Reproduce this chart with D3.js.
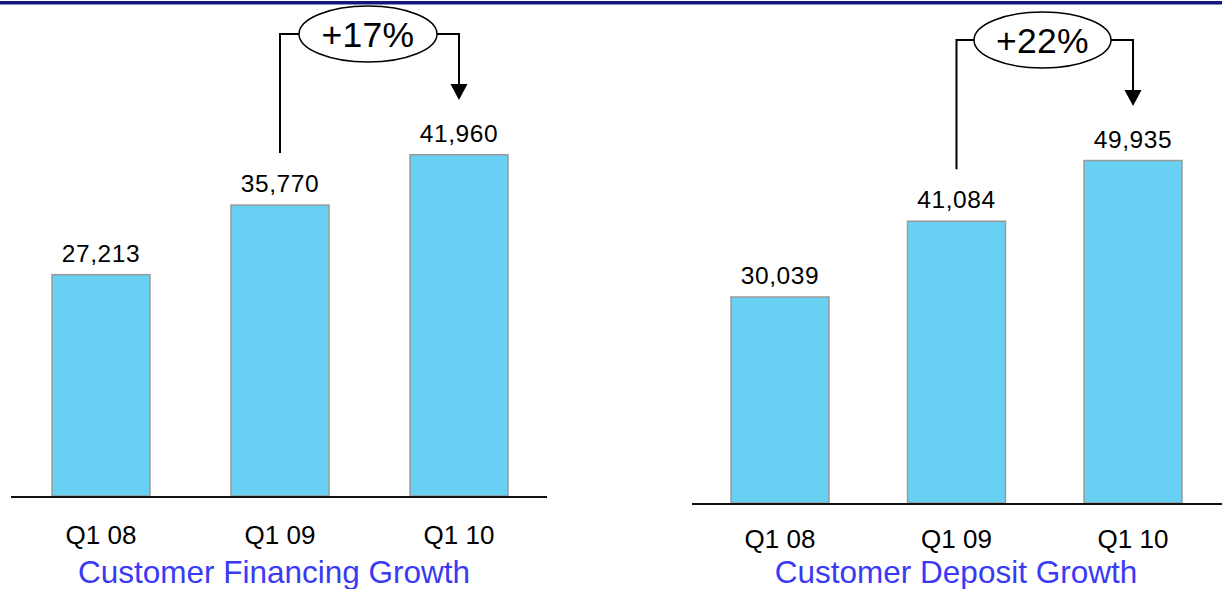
<!DOCTYPE html>
<html lang="en">
<head>
<meta charset="utf-8">
<title>Customer Financing / Deposit Growth</title>
<script src="https://cdn.jsdelivr.net/npm/d3@7"></script>
<style>
  body { margin: 0; background: #fff; }
  text { font-family: "Liberation Sans", Arial, sans-serif; }
</style>
</head>
<body>
<script>
// data
var categories = ["Q1 08", "Q1 09", "Q1 10"];
var financing = [27213, 35770, 41960];
var deposits = [30039, 41084, 49935];
var financingGrowth = "+17%";
var depositGrowth = "+22%";

var w = 1222, h = 589;

var svg = d3.select("body").append("svg")
    .attr("width", w)
    .attr("height", h);

// top rule
svg.append("rect").attr("x", 0).attr("y", 1).attr("width", w).attr("height", 3).attr("fill", "#15157a");
svg.append("rect").attr("x", 0).attr("y", 4).attr("width", w).attr("height", 1).attr("fill", "#8c8cba");

function drawPanel(opt) {
  var g = svg.append("g");

  var x = d3.scaleBand()
      .domain(categories)
      .range(opt.xRange)
      .paddingInner(opt.pad)
      .paddingOuter(0);

  var y = d3.scaleLinear()
      .domain([0, 60000])
      .range([opt.base, opt.base - opt.pxPer60k]);

  // bars
  g.selectAll("rect.bar")
    .data(opt.values)
    .enter()
    .append("rect")
    .attr("class", "bar")
    .attr("x", function(d, i) { return x(categories[i]); })
    .attr("y", function(d) { return y(d); })
    .attr("width", x.bandwidth())
    .attr("height", function(d) { return y(0) - y(d); })
    .attr("fill", "#68d0f2")
    .attr("stroke", "#9a9a9a")
    .attr("stroke-width", 1.5);

  // value labels
  g.selectAll("text.val")
    .data(opt.values)
    .enter()
    .append("text")
    .attr("class", "val")
    .attr("x", function(d, i) { return x(categories[i]) + x.bandwidth() / 2; })
    .attr("y", function(d) { return y(d) - 13; })
    .attr("text-anchor", "middle")
    .attr("font-size", 24.5)
    .attr("letter-spacing", 0.6)
    .attr("fill", "#000")
    .text(function(d) { return d3.format(",")(d); });

  // baseline
  g.append("line")
    .attr("x1", opt.axisX[0]).attr("x2", opt.axisX[1])
    .attr("y1", y(0) + 1).attr("y2", y(0) + 1)
    .attr("stroke", "#111")
    .attr("stroke-width", 2);

  // category labels
  g.selectAll("text.cat")
    .data(categories)
    .enter()
    .append("text")
    .attr("class", "cat")
    .attr("x", function(d) { return x(d) + x.bandwidth() / 2; })
    .attr("y", opt.catY)
    .attr("text-anchor", "middle")
    .attr("font-size", 26)
    .attr("fill", "#000")
    .text(function(d) { return d; });

  // title
  g.append("text")
    .attr("x", opt.titleX)
    .attr("y", 583)
    .attr("text-anchor", "middle")
    .attr("font-size", 31.5)
    .attr("fill", "#3a3af5")
    .text(opt.title);

  // growth annotation: from bar 2 to bar 3
  var x1 = x(categories[1]) + x.bandwidth() / 2;
  var x2 = x(categories[2]) + x.bandwidth() / 2;
  var cx = opt.ell[0], cy = opt.ell[1], rx = opt.ell[2], ry = opt.ell[3];
  var tip = opt.arrowTip;

  g.append("path")
    .attr("d", "M" + x1 + "," + (y(opt.values[1]) - 52) + " V" + cy + " H" + (cx - rx))
    .attr("fill", "none").attr("stroke", "#000").attr("stroke-width", 2);

  g.append("path")
    .attr("d", "M" + (cx + rx) + "," + cy + " H" + x2 + " V" + (tip - 14))
    .attr("fill", "none").attr("stroke", "#000").attr("stroke-width", 2);

  g.append("path")
    .attr("d", "M" + (x2 - 8.5) + "," + (tip - 16) + " L" + (x2 + 8.5) + "," + (tip - 16) + " L" + x2 + "," + tip + " Z")
    .attr("fill", "#000");

  g.append("ellipse")
    .attr("cx", cx).attr("cy", cy)
    .attr("rx", rx).attr("ry", ry)
    .attr("fill", "#fff").attr("stroke", "#000").attr("stroke-width", 1.5);

  g.append("text")
    .attr("x", cx).attr("y", cy + 12.5)
    .attr("text-anchor", "middle")
    .attr("font-size", 35.5)
    .attr("letter-spacing", 0.3)
    .attr("fill", "#000")
    .text(opt.growth);
}

drawPanel({
  values: financing,
  xRange: [52, 508],
  pad: 0.4525,
  base: 496,
  pxPer60k: 488,
  axisX: [11, 547],
  catY: 544,
  titleX: 274,
  title: "Customer Financing Growth",
  growth: financingGrowth,
  ell: [368, 34, 69, 28],
  arrowTip: 100
});

drawPanel({
  values: deposits,
  xRange: [731, 1182],
  pad: 0.445,
  base: 503,
  pxPer60k: 411.5,
  axisX: [692, 1222],
  catY: 548,
  titleX: 956,
  title: "Customer Deposit Growth",
  growth: depositGrowth,
  ell: [1042.5, 40, 68.5, 28],
  arrowTip: 106
});
</script>
</body>
</html>
